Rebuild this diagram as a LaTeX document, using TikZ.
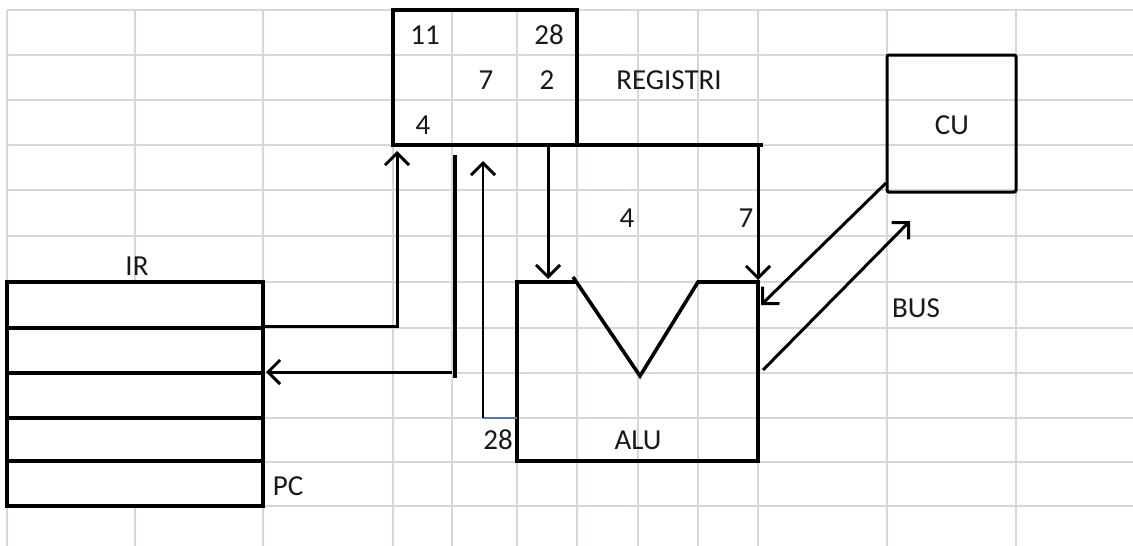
\documentclass[tikz,border=0pt]{standalone}
\usepackage{fontspec}
\setmainfont{Carlito}
\usetikzlibrary{arrows.meta}
\definecolor{gridc}{RGB}{212,214,224}
\definecolor{inkc}{RGB}{25,25,25}
\definecolor{linkc}{RGB}{90,120,160}
\begin{document}
\begin{tikzpicture}[x=1pt,y=-1pt,
  gridline/.style={draw=gridc, line width=2.8pt},
  outline/.style={draw=black, line width=3.6pt},
  conn/.style={draw=black, line width=3pt,
    -{Straight Barb[length=12pt,width=24pt,line width=3pt]}},
  lbl/.style={font=\fontsize{29}{32}\selectfont, text=inkc, inner sep=0pt},
  box/.style={outline, inner sep=0pt, outer sep=0pt, anchor=north west},
]
% page
\fill[white] (0,0) rectangle (1133,546);
\useasboundingbox (0,0) rectangle (1133,546);

% spreadsheet grid
\foreach \gy in {10,55,100,145,190,236,282,328,373,418,462,506}
  \draw[gridline] (7,\gy) -- (1140,\gy);
\foreach \gx in {7,135,263,393,452,517,577,638,698,758,887,1016}
  \draw[gridline] (\gx,10) -- (\gx,550);

% register file
\node[box, minimum width=184pt, minimum height=135pt] (reg) at (393,10) {};
\coordinate (regEnd) at (763,145);
\draw[outline] (reg.south east) -- (regEnd);
\node[lbl] (r11) at (425,35) {11};
\node[lbl] (r28) at (549,35) {28};
\node[lbl] (r7)  at (486,80) {7};
\node[lbl] (r2)  at (547,80) {2};
\node[lbl] (r4)  at (423,125) {4};
\node[lbl] (regname) at (669,80) {REGISTRI};

% control unit
\node[box, line width=3pt, rounded corners=2pt,
      minimum width=129pt, minimum height=137pt] (cu) at (887,55) {};
\node[lbl] (cuname) at (952,125) {CU};

% instruction register / program counter
\node[box, fill=white, minimum width=256pt, minimum height=224pt] (ir) at (7,282) {};
\foreach \ry in {328,373,418}
  \draw[outline] (7,\ry) -- (263,\ry);
\draw[draw=black, line width=4.6pt] (7,461) -- (263,461);
\node[lbl] (irname) at (137,266) {IR};
\node[lbl] (pcname) at (288,486) {PC};

% ALU with its V-shaped input notch
\coordinate (aluTL) at (517,282);
\coordinate (aluN1) at (575,282);
\coordinate (aluN0) at (573,277);
\coordinate (aluV)  at (640,376);
\coordinate (aluN2) at (698,282);
\coordinate (aluTR) at (758,282);
\coordinate (aluBR) at (758,461);
\coordinate (aluBL) at (517,461);
\draw[outline, line join=miter] (aluN1) -- (aluTL) -- (aluBL) -- (aluBR) -- (aluTR) -- (aluN2) -- (aluV) -- (aluN0);
\node[lbl] (aluname) at (638,440) {ALU};
\node[lbl] (alu28) at (498,440) {28};
\node[lbl] (op4) at (627,218) {4};
\node[lbl] (op7) at (746,218) {7};

% data paths
\coordinate (regA) at (548,145);
\coordinate (aluA) at (548,279);
\draw[conn] (regA) -- (aluA);
\coordinate (regB) at (758,145);
\coordinate (aluB) at (758,280);
\draw[conn] (regB) -- (aluB);

\coordinate (irOut) at (265,326);
\coordinate (regIn) at (397,151);
\draw[conn] (irOut) -| (regIn);

\coordinate (barTop) at (455,155);
\coordinate (barBot) at (455,378);
\draw[draw=black, line width=4.6pt] (barTop) -- (barBot);
\coordinate (barOut) at (452,372);
\coordinate (irIn) at (266,372);
\draw[conn] (barOut) -- (irIn);

\coordinate (aluOut) at (517,418);
\coordinate (aluBend) at (483,418);
\coordinate (regIn2) at (483,161);
\draw[draw=linkc, line width=2.2pt] (aluOut) -- (aluBend);
\draw[conn, line width=2.4pt] (aluBend) -- (regIn2);

% bus between CU and ALU
\coordinate (cuOut) at (886,183);
\coordinate (aluIn) at (761,305);
\draw[conn] (cuOut) -- (aluIn);
\coordinate (aluOut2) at (763,370);
\coordinate (cuIn) at (910,221);
\draw[conn] (aluOut2) -- (cuIn);
\node[lbl] (busname) at (916,308) {BUS};
\end{tikzpicture}
\end{document}
